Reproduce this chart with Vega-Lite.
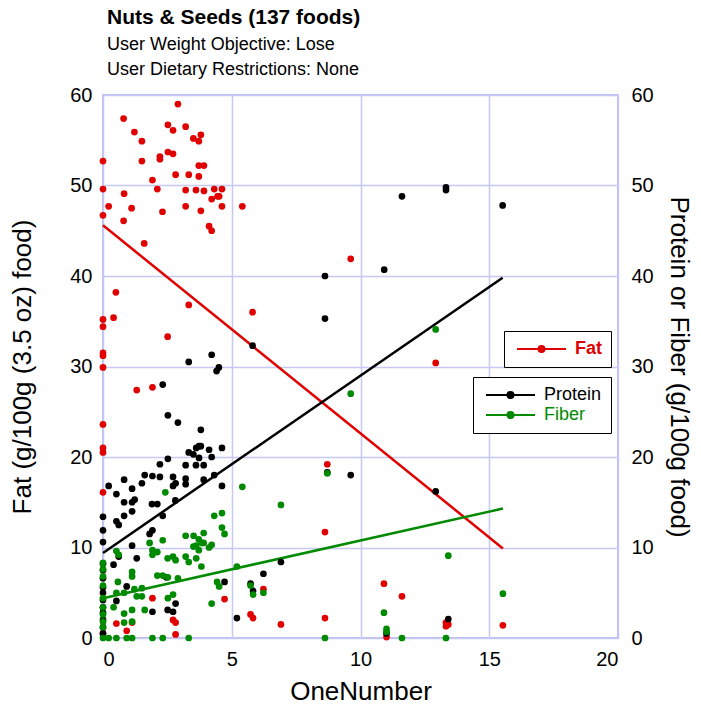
{
  "$schema": "https://vega.github.io/schema/vega-lite/v6.json",
  "width": 515,
  "height": 543,
  "padding": {"left": 9, "top": 7, "right": 5, "bottom": 0},
  "title": {
    "text": "Nuts & Seeds (137 foods)",
    "subtitle": ["User Weight Objective: Lose", "User Dietary Restrictions: None"],
    "anchor": "start",
    "frame": "group",
    "fontSize": 21,
    "fontWeight": "bold",
    "subtitleFontSize": 18,
    "subtitleColor": "black",
    "subtitlePadding": 8,
    "subtitleLineHeight": 25,
    "color": "black",
    "offset": 6,
    "dx": 4
  },
  "config": {
    "font": "Liberation Sans",
    "view": {"stroke": "#a8a8f0", "strokeWidth": 1.5},
    "axis": {
      "labelFontSize": 20,
      "titleFontSize": 26,
      "titleFontWeight": "normal",
      "labelColor": "black",
      "titleColor": "black",
      "domain": false,
      "ticks": false,
      "labelPadding": 11,
      "gridColor": "#c8c8f4",
      "gridWidth": 1.5,
      "gridOpacity": 1
    },
    "legend": {
      "orient": "none",
      "strokeColor": "black",
      "fillColor": "white",
      "padding": 9,
      "symbolType": "M-1,0H8.8M4.5,0A0.6,0.6,0,1,1,3.3,0A0.6,0.6,0,1,1,4.5,0Z",
      "symbolSize": 100,
      "symbolStrokeWidth": 2,
      "labelFontSize": 18,
      "labelOffset": 44,
      "rowPadding": 2,
      "title": null
    }
  },
  "datasets": {
    "pts": [
      {"n":"Fat","x":2.91,"y":59.0},{"n":"Fat","x":0.80,"y":57.4},{"n":"Fat","x":1.22,"y":55.9},{"n":"Fat","x":1.51,"y":54.9},{"n":"Fat","x":2.52,"y":56.7},{"n":"Fat","x":2.72,"y":56.1},{"n":"Fat","x":3.21,"y":56.5},{"n":"Fat","x":3.51,"y":55.2},{"n":"Fat","x":3.80,"y":55.6},{"n":"Fat","x":3.72,"y":54.9},
      {"n":"Fat","x":0,"y":52.7},{"n":"Fat","x":1.51,"y":52.7},{"n":"Fat","x":2.21,"y":53.2},{"n":"Fat","x":2.21,"y":52.9},{"n":"Fat","x":2.52,"y":53.7},{"n":"Fat","x":2.72,"y":53.5},{"n":"Fat","x":3.72,"y":52.2},{"n":"Fat","x":3.92,"y":52.2},{"n":"Fat","x":2.82,"y":51.2},{"n":"Fat","x":3.33,"y":51.2},
      {"n":"Fat","x":3.72,"y":51.0},{"n":"Fat","x":1.92,"y":50.6},{"n":"Fat","x":0,"y":49.6},{"n":"Fat","x":2.11,"y":49.6},{"n":"Fat","x":3.21,"y":49.5},{"n":"Fat","x":3.61,"y":49.5},{"n":"Fat","x":3.92,"y":49.4},{"n":"Fat","x":4.32,"y":49.6},{"n":"Fat","x":4.62,"y":49.6},{"n":"Fat","x":0.82,"y":49.1},
      {"n":"Fat","x":4.45,"y":48.8},{"n":"Fat","x":4.51,"y":48.8},{"n":"Fat","x":4.22,"y":48.5},{"n":"Fat","x":0.22,"y":47.7},{"n":"Fat","x":1.11,"y":47.5},{"n":"Fat","x":3.21,"y":47.7},{"n":"Fat","x":4.62,"y":47.7},{"n":"Fat","x":5.41,"y":47.7},{"n":"Fat","x":2.31,"y":47.1},{"n":"Fat","x":3.80,"y":47.2},
      {"n":"Fat","x":0,"y":46.7},{"n":"Fat","x":0.80,"y":46.1},{"n":"Fat","x":4.12,"y":45.5},{"n":"Fat","x":4.22,"y":45.0},{"n":"Fat","x":1.60,"y":43.6},
      {"n":"Fat","x":0.50,"y":38.2},{"n":"Fat","x":3.33,"y":36.8},{"n":"Fat","x":5.81,"y":36.0},{"n":"Fat","x":0,"y":35.2},{"n":"Fat","x":0.41,"y":35.4},{"n":"Fat","x":0,"y":34.4},{"n":"Fat","x":2.51,"y":33.3},{"n":"Fat","x":0,"y":31.5},{"n":"Fat","x":0,"y":31.2},{"n":"Fat","x":0,"y":29.9},
      {"n":"Fat","x":1.31,"y":27.4},{"n":"Fat","x":1.92,"y":27.7},{"n":"Fat","x":0,"y":23.6},{"n":"Fat","x":0,"y":21.0},{"n":"Fat","x":0,"y":20.5},
      {"n":"Fat","x":9.62,"y":41.9},{"n":"Fat","x":12.92,"y":30.4},{"n":"Fat","x":8.71,"y":19.2},{"n":"Fat","x":8.62,"y":11.7},{"n":"Fat","x":0,"y":16.1},{"n":"Fat","x":6.23,"y":5.4},{"n":"Fat","x":10.91,"y":6.0},{"n":"Fat","x":11.61,"y":4.6},{"n":"Fat","x":5.73,"y":2.6},{"n":"Fat","x":5.83,"y":2.2},
      {"n":"Fat","x":6.91,"y":1.5},{"n":"Fat","x":8.62,"y":2.2},{"n":"Fat","x":13.32,"y":1.7},{"n":"Fat","x":13.41,"y":1.5},{"n":"Fat","x":13.32,"y":1.3},{"n":"Fat","x":15.53,"y":1.4},{"n":"Fat","x":11.01,"y":0.1},{"n":"Fat","x":1.92,"y":4.4},{"n":"Fat","x":4.72,"y":4.3},{"n":"Fat","x":0.52,"y":1.6},
      {"n":"Fat","x":1.13,"y":1.7},{"n":"Fat","x":0.92,"y":0.8},{"n":"Fat","x":2.72,"y":2.0},{"n":"Fat","x":2.82,"y":1.7},{"n":"Fat","x":2.82,"y":0.4},{"n":"Fat","x":0,"y":0.5},

      {"n":"Protein","x":11.61,"y":48.8},{"n":"Protein","x":13.32,"y":49.8},{"n":"Protein","x":13.32,"y":49.5},{"n":"Protein","x":15.52,"y":47.8},{"n":"Protein","x":8.62,"y":40.0},{"n":"Protein","x":10.92,"y":40.7},{"n":"Protein","x":8.62,"y":35.3},{"n":"Protein","x":5.81,"y":32.3},
      {"n":"Protein","x":4.22,"y":31.3},{"n":"Protein","x":3.33,"y":30.5},{"n":"Protein","x":4.50,"y":29.9},{"n":"Protein","x":4.41,"y":29.5},{"n":"Protein","x":2.32,"y":28.0},{"n":"Protein","x":2.52,"y":24.6},{"n":"Protein","x":2.91,"y":23.8},{"n":"Protein","x":3.80,"y":23.0},{"n":"Protein","x":3.73,"y":21.2},{"n":"Protein","x":3.80,"y":21.2},
      {"n":"Protein","x":3.62,"y":21.0},{"n":"Protein","x":4.12,"y":20.8},{"n":"Protein","x":4.62,"y":21.0},{"n":"Protein","x":3.33,"y":20.5},{"n":"Protein","x":3.51,"y":20.3},{"n":"Protein","x":3.73,"y":19.9},{"n":"Protein","x":4.22,"y":20.0},{"n":"Protein","x":2.52,"y":19.8},{"n":"Protein","x":2.21,"y":19.2},{"n":"Protein","x":3.21,"y":19.1},
      {"n":"Protein","x":3.61,"y":19.1},{"n":"Protein","x":3.91,"y":19.1},{"n":"Protein","x":1.62,"y":18.0},{"n":"Protein","x":1.92,"y":17.9},{"n":"Protein","x":2.21,"y":17.8},{"n":"Protein","x":2.72,"y":17.8},{"n":"Protein","x":4.32,"y":18.0},{"n":"Protein","x":0.82,"y":17.5},{"n":"Protein","x":3.21,"y":17.6},{"n":"Protein","x":3.91,"y":17.5},
      {"n":"Protein","x":8.71,"y":18.3},{"n":"Protein","x":9.62,"y":18.0},{"n":"Protein","x":12.92,"y":16.2},{"n":"Protein","x":6.91,"y":8.4},{"n":"Protein","x":6.23,"y":7.1},{"n":"Protein","x":5.73,"y":6.0},{"n":"Protein","x":5.83,"y":5.2},{"n":"Protein","x":13.41,"y":2.1},{"n":"Protein","x":11.01,"y":0.5},
      {"n":"Protein","x":0.22,"y":16.8},{"n":"Protein","x":1.51,"y":17.1},{"n":"Protein","x":2.72,"y":16.8},{"n":"Protein","x":2.82,"y":17.1},{"n":"Protein","x":3.21,"y":17.0},{"n":"Protein","x":4.62,"y":16.8},{"n":"Protein","x":0.52,"y":15.9},{"n":"Protein","x":1.13,"y":16.5},{"n":"Protein","x":0.82,"y":15.0},{"n":"Protein","x":1.13,"y":15.0},
      {"n":"Protein","x":1.23,"y":15.3},{"n":"Protein","x":1.90,"y":14.8},{"n":"Protein","x":2.11,"y":14.8},{"n":"Protein","x":2.81,"y":15.2},{"n":"Protein","x":0,"y":13.4},{"n":"Protein","x":0.82,"y":13.5},{"n":"Protein","x":1.13,"y":14.0},{"n":"Protein","x":0.52,"y":12.9},{"n":"Protein","x":0.61,"y":12.5},{"n":"Protein","x":2.32,"y":13.5},
      {"n":"Protein","x":0,"y":11.9},{"n":"Protein","x":1.92,"y":11.9},{"n":"Protein","x":1.81,"y":11.5},{"n":"Protein","x":0,"y":10.6},{"n":"Protein","x":1.13,"y":10.2},{"n":"Protein","x":0.41,"y":8.1},{"n":"Protein","x":0.61,"y":9.0},{"n":"Protein","x":1.31,"y":8.8},{"n":"Protein","x":2.46,"y":6.7},{"n":"Protein","x":0.92,"y":5.7},
      {"n":"Protein","x":0.52,"y":4.1},{"n":"Protein","x":1.92,"y":2.9},{"n":"Protein","x":2.51,"y":3.1},{"n":"Protein","x":2.72,"y":2.9},{"n":"Protein","x":2.82,"y":3.8},{"n":"Protein","x":4.72,"y":6.2},{"n":"Protein","x":5.2,"y":2.2},
      {"n":"Protein","x":0,"y":8.2},{"n":"Protein","x":0,"y":7.5},{"n":"Protein","x":0,"y":6.6},{"n":"Protein","x":0,"y":5.6},{"n":"Protein","x":0,"y":5.0},{"n":"Protein","x":0,"y":4.2},{"n":"Protein","x":0,"y":3.4},{"n":"Protein","x":0,"y":2.8},{"n":"Protein","x":0,"y":2.0},{"n":"Protein","x":0,"y":1.2},{"n":"Protein","x":0,"y":0.5},

      {"n":"Fiber","x":12.92,"y":34.1},{"n":"Fiber","x":9.62,"y":27.0},{"n":"Fiber","x":8.71,"y":18.2},{"n":"Fiber","x":6.91,"y":14.7},{"n":"Fiber","x":13.41,"y":9.1},{"n":"Fiber","x":5.73,"y":5.8},{"n":"Fiber","x":5.83,"y":4.8},{"n":"Fiber","x":6.23,"y":5.0},{"n":"Fiber","x":15.53,"y":4.9},{"n":"Fiber","x":10.91,"y":2.8},
      {"n":"Fiber","x":11.01,"y":1.0},{"n":"Fiber","x":11.01,"y":0.7},{"n":"Fiber","x":8.62,"y":0},{"n":"Fiber","x":11.61,"y":0},{"n":"Fiber","x":13.32,"y":0},
      {"n":"Fiber","x":5.41,"y":16.7},{"n":"Fiber","x":2.42,"y":16.1},{"n":"Fiber","x":4.32,"y":13.5},{"n":"Fiber","x":4.62,"y":13.8},{"n":"Fiber","x":4.62,"y":12.2},{"n":"Fiber","x":4.72,"y":11.5},{"n":"Fiber","x":3.21,"y":11.3},{"n":"Fiber","x":3.52,"y":11.3},{"n":"Fiber","x":3.91,"y":11.6},{"n":"Fiber","x":3.72,"y":10.9},
      {"n":"Fiber","x":1.81,"y":10.5},{"n":"Fiber","x":2.32,"y":10.8},{"n":"Fiber","x":3.51,"y":10.1},{"n":"Fiber","x":3.62,"y":10.2},{"n":"Fiber","x":3.72,"y":9.7},{"n":"Fiber","x":3.91,"y":10.5},{"n":"Fiber","x":3.84,"y":10.5},{"n":"Fiber","x":4.12,"y":10.0},{"n":"Fiber","x":4.22,"y":10.3},{"n":"Fiber","x":1.92,"y":9.7},
      {"n":"Fiber","x":1.92,"y":9.2},{"n":"Fiber","x":2.11,"y":9.5},{"n":"Fiber","x":0.52,"y":9.6},{"n":"Fiber","x":0.61,"y":9.2},{"n":"Fiber","x":2.51,"y":8.8},{"n":"Fiber","x":2.72,"y":9.0},{"n":"Fiber","x":2.82,"y":8.6},{"n":"Fiber","x":3.21,"y":9.0},{"n":"Fiber","x":3.33,"y":8.4},{"n":"Fiber","x":3.62,"y":8.8},
      {"n":"Fiber","x":3.82,"y":7.9},{"n":"Fiber","x":5.2,"y":7.9},{"n":"Fiber","x":0,"y":8.3},{"n":"Fiber","x":0,"y":7.6},{"n":"Fiber","x":1.13,"y":7.3},{"n":"Fiber","x":1.13,"y":6.8},{"n":"Fiber","x":2.11,"y":6.9},{"n":"Fiber","x":2.32,"y":6.9},{"n":"Fiber","x":2.52,"y":6.7},{"n":"Fiber","x":2.91,"y":6.6},
      {"n":"Fiber","x":0.58,"y":6.2},{"n":"Fiber","x":4.43,"y":6.2},{"n":"Fiber","x":4.51,"y":5.7},{"n":"Fiber","x":1.22,"y":5.4},{"n":"Fiber","x":1.51,"y":5.5},{"n":"Fiber","x":0.82,"y":5.0},{"n":"Fiber","x":0.52,"y":5.0},{"n":"Fiber","x":1.31,"y":4.6},{"n":"Fiber","x":1.51,"y":4.6},{"n":"Fiber","x":2.72,"y":4.8},
      {"n":"Fiber","x":2.52,"y":4.4},{"n":"Fiber","x":0,"y":4.4},{"n":"Fiber","x":0.41,"y":3.4},{"n":"Fiber","x":1.62,"y":3.1},{"n":"Fiber","x":1.13,"y":3.1},{"n":"Fiber","x":4.22,"y":3.8},{"n":"Fiber","x":0.82,"y":2.7},{"n":"Fiber","x":1.13,"y":1.8},{"n":"Fiber","x":0.82,"y":1.7},{"n":"Fiber","x":0,"y":2.6},
      {"n":"Fiber","x":0,"y":1.8},{"n":"Fiber","x":0,"y":1.2},{"n":"Fiber","x":0,"y":6.8},{"n":"Fiber","x":0,"y":5.8},{"n":"Fiber","x":0,"y":3.4},
      {"n":"Fiber","x":0,"y":0},{"n":"Fiber","x":0.22,"y":0},{"n":"Fiber","x":0.52,"y":0},{"n":"Fiber","x":0.92,"y":0},{"n":"Fiber","x":1.13,"y":0},{"n":"Fiber","x":1.92,"y":0},{"n":"Fiber","x":2.32,"y":0},{"n":"Fiber","x":3.33,"y":0}
    ],
    "lines": [
      {"n":"Fat","x":0,"y":45.6},{"n":"Fat","x":15.53,"y":9.9},
      {"n":"Protein","x":0,"y":9.4},{"n":"Protein","x":15.52,"y":39.8},
      {"n":"Fiber","x":0,"y":4.4},{"n":"Fiber","x":15.53,"y":14.3}
    ]
  },
  "layer": [
    {
      "encoding": {
        "x": {"field": "x", "type": "quantitative", "scale": {"domain": [0, 20], "nice": false},
              "axis": {"title": "OneNumber", "values": [0, 5, 10, 15, 20], "grid": true, "titlePadding": 9}},
        "y": {"field": "y", "type": "quantitative", "scale": {"domain": [0, 60], "nice": false},
              "axis": {"title": "Fat (g/100g (3.5 oz) food)", "orient": "left", "values": [0, 10, 20, 30, 40, 50, 60], "grid": true, "titlePadding": 34}},
        "color": {"field": "n", "type": "nominal", "scale": {"domain": ["Fat"], "range": ["#e00000"]},
                  "legend": {"legendX": 401, "legendY": 236, "labelFontWeight": "bold", "labelColor": "#e00000",
                             "encode": {"symbols": {"update": {"fill": {"value": "#e00000"}, "stroke": {"value": "#e00000"}, "opacity": {"value": 1}}}}}}
      },
      "layer": [
        {"data": {"name": "lines"}, "transform": [{"filter": "datum.n === 'Fat'"}],
         "mark": {"type": "line", "strokeWidth": 2.5}},
        {"data": {"name": "pts"}, "transform": [{"filter": "datum.n === 'Fat'"}],
         "mark": {"type": "point", "filled": true, "opacity": 1, "size": 45, "strokeWidth": 0}}
      ]
    },
    {
      "encoding": {
        "x": {"field": "x", "type": "quantitative", "scale": {"domain": [0, 20], "nice": false},
              "axis": {"title": "OneNumber", "values": [0, 5, 10, 15, 20], "grid": true, "titlePadding": 9}},
        "y": {"field": "y", "type": "quantitative", "scale": {"domain": [0, 60], "nice": false},
              "axis": {"title": "Protein or Fiber (g/100g food)", "orient": "right", "values": [0, 10, 20, 30, 40, 50, 60], "grid": false, "labelPadding": 13, "titlePadding": 12}},
        "color": {"field": "n", "type": "nominal", "scale": {"domain": ["Protein", "Fiber"], "range": ["#000000", "#008a00"]},
                  "legend": {"legendX": 370, "legendY": 282,
                             "encode": {
                               "symbols": {"update": {"fill": {"signal": "datum.value === 'Fiber' ? '#008a00' : '#000000'"}, "stroke": {"signal": "datum.value === 'Fiber' ? '#008a00' : '#000000'"}, "opacity": {"value": 1}}},
                               "labels": {"update": {"fill": {"signal": "datum.value === 'Fiber' ? '#008a00' : '#000000'"}}}
                             }}}
      },
      "layer": [
        {"data": {"name": "lines"}, "transform": [{"filter": "datum.n !== 'Fat'"}],
         "mark": {"type": "line", "strokeWidth": 2.5}},
        {"data": {"name": "pts"}, "transform": [{"filter": "datum.n !== 'Fat'"}],
         "mark": {"type": "point", "filled": true, "opacity": 1, "size": 45, "strokeWidth": 0}}
      ]
    }
  ],
  "resolve": {"scale": {"y": "independent", "color": "independent"}}
}
